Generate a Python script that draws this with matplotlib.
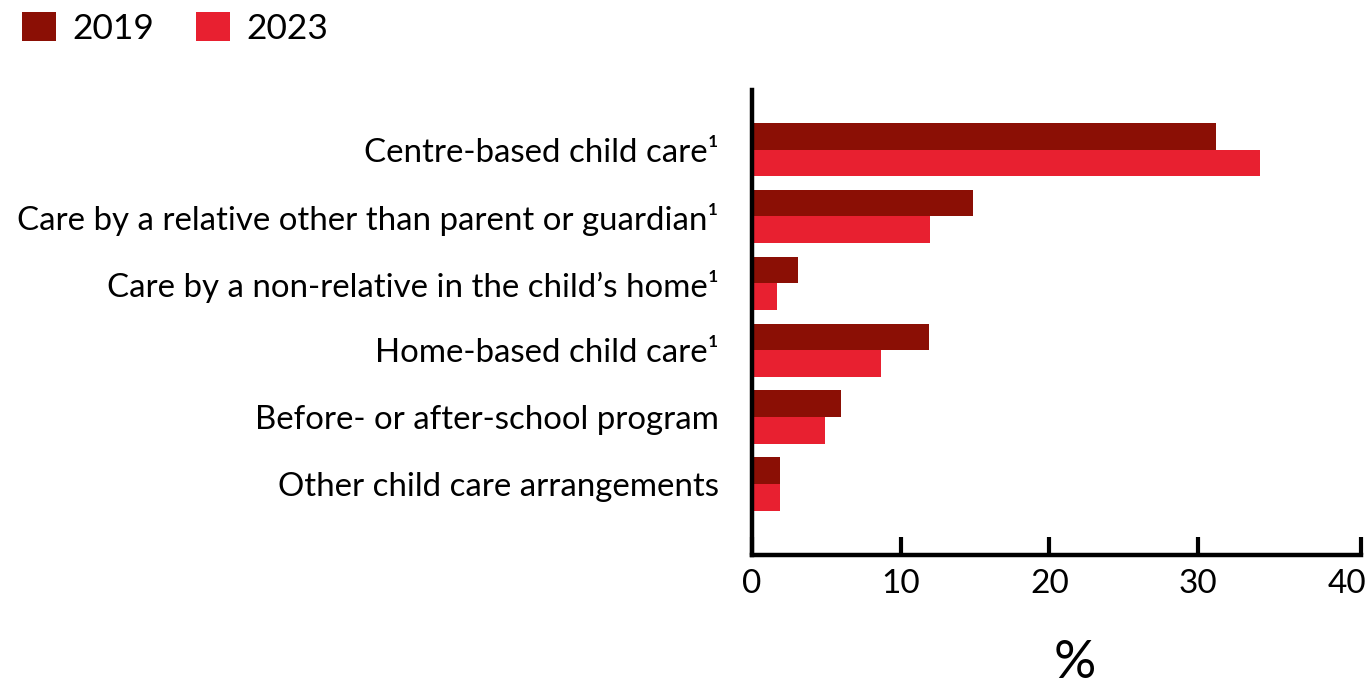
import matplotlib.pyplot as plt
import numpy as np

plt.rcParams['font.family'] = ['Lato', 'DejaVu Sans']

categories = [
    "Centre-based child care\u00b9",
    "Care by a relative other than parent or guardian\u00b9",
    "Care by a non-relative in the child\u2019s home\u00b9",
    "Home-based child care\u00b9",
    "Before- or after-school program",
    "Other child care arrangements",
]
years = ["2019", "2023"]
pct_2019 = [31.2, 14.9, 3.1, 11.9, 6.0, 1.9]
pct_2023 = [34.2, 12.0, 1.7, 8.7, 4.9, 1.9]
xticks = [0, 10, 20, 30, 40]

dark_red = "#8B0F05"
bright_red = "#E82030"

fig = plt.figure(figsize=(13.72, 6.87), dpi=100)
ax = fig.add_axes([0.548, 0.192, 0.4439, 0.677])

y = np.arange(len(categories))
h = 0.4
ax.barh(y - h / 2, pct_2019, height=h, color=dark_red, label=years[0])
ax.barh(y + h / 2, pct_2023, height=h, color=bright_red, label=years[1])

xmax = 40.95
ax.set_xlim(0, xmax)
ax.set_ylim(6.06, -0.89)
ax.set_yticks(y)
ax.set_yticklabels(categories, fontsize=23.8)
ax.set_xticks(xticks)
ax.set_xticklabels([str(t) for t in xticks], fontsize=24)

for side in ["top", "right"]:
    ax.spines[side].set_visible(False)
for side in ["left", "bottom"]:
    ax.spines[side].set_linewidth(3.2)
    ax.spines[side].set_color("black")

ax.tick_params(axis="y", length=0, pad=24)
ax.tick_params(axis="x", direction="in", length=13, width=3, pad=10)

# end cap tick sits at the end of the axis line, 40 label stays on its value
ax.xaxis.get_major_ticks()[-1].tick1line.set_visible(False)
ax.set_xticks([xmax], minor=True)
ax.tick_params(axis="x", which="minor", direction="in", length=13, width=3)

fig.text(0.7835, 0.0335, "%", fontsize=38, ha="center", va="center")

fig.legend(loc="upper left", bbox_to_anchor=(22 / 1372, 1 - 12 / 687), ncol=2,
           frameon=False, fontsize=25.5, handlelength=0.96, handleheight=0.9,
           handletextpad=0.46, columnspacing=1.18, borderpad=0, borderaxespad=0)

fig.savefig("out.png", dpi=100)
